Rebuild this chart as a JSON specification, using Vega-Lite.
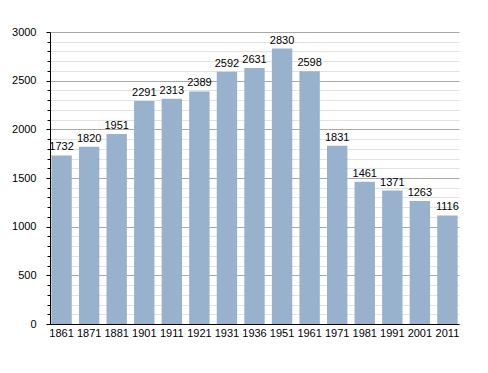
{
  "$schema": "https://vega.github.io/schema/vega-lite/v6.json",
  "width": 409,
  "height": 292,
  "autosize": {"type": "none"},
  "padding": {"left": 50, "top": 32, "right": 29, "bottom": 49},
  "background": "white",
  "config": {
    "view": {"stroke": null},
    "font": "Liberation Sans",
    "axis": {"labelFont": "Liberation Sans", "labelFontSize": 11, "labelColor": "#000"}
  },
  "data": {
    "values": [
      {"year": "1861", "pop": 1732},
      {"year": "1871", "pop": 1820},
      {"year": "1881", "pop": 1951},
      {"year": "1901", "pop": 2291},
      {"year": "1911", "pop": 2313},
      {"year": "1921", "pop": 2389},
      {"year": "1931", "pop": 2592},
      {"year": "1936", "pop": 2631},
      {"year": "1951", "pop": 2830},
      {"year": "1961", "pop": 2598},
      {"year": "1971", "pop": 1831},
      {"year": "1981", "pop": 1461},
      {"year": "1991", "pop": 1371},
      {"year": "2001", "pop": 1263},
      {"year": "2011", "pop": 1116}
    ]
  },
  "encoding": {
    "x": {
      "field": "year", "type": "ordinal", "sort": null,
      "scale": {"paddingInner": 0.26, "paddingOuter": 0.05},
      "axis": {"title": null, "labelAngle": 0, "ticks": false, "domainColor": "#000", "domainWidth": 1, "labelPadding": 3}
    },
    "y": {
      "field": "pop", "type": "quantitative",
      "scale": {"domain": [0, 3000], "nice": false},
      "axis": {
        "title": null,
        "values": [0,100,200,300,400,500,600,700,800,900,1000,1100,1200,1300,1400,1500,1600,1700,1800,1900,2000,2100,2200,2300,2400,2500,2600,2700,2800,2900,3000],
        "labelExpr": "datum.value % 500 === 0 ? datum.value : ''",
        "grid": true,
        "gridColor": {"condition": {"test": "datum.value % 500 === 0", "value": "#a8a8a8"}, "value": "#e2e2e2"},
        "domainColor": "#000",
        "tickColor": "#000",
        "tickSize": {"condition": {"test": "datum.value % 500 === 0", "value": 4}, "value": 3},
        "labelPadding": 10
      }
    }
  },
  "layer": [
    {"mark": {"type": "bar", "color": "#98b2cd"}},
    {"mark": {"type": "text", "baseline": "bottom", "dy": -3, "fontSize": 11, "color": "#000"},
     "encoding": {"text": {"field": "pop", "type": "quantitative", "format": "d"}}}
  ]
}
